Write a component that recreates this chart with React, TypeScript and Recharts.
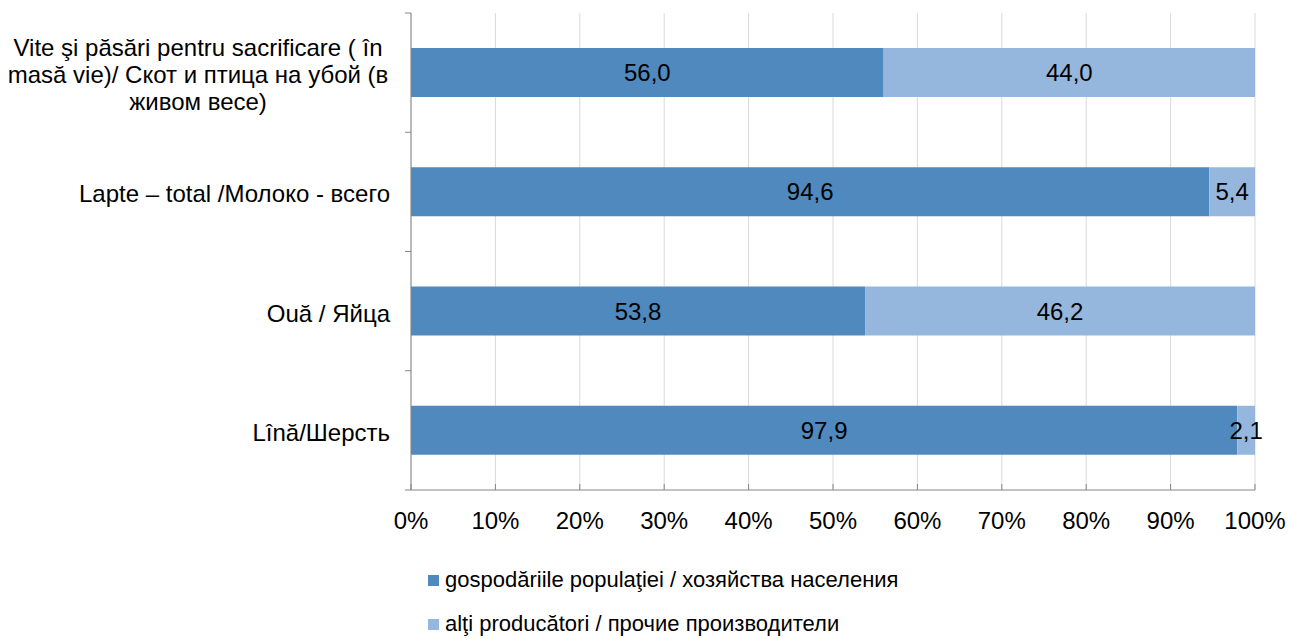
import React from 'react';
import { Bar, BarChart, CartesianGrid, LabelList, XAxis, YAxis } from 'recharts';

const categories = [
  'Vite şi păsări pentru sacrificare ( în\nmasă vie)/ Скот и птица на убой (в\nживом весе)',
  'Lapte – total /Молоко - всего',
  'Ouă / Яйца',
  'Lînă/Шерсть',
];
const households = [56.0, 94.6, 53.8, 97.9];
const others = [44.0, 5.4, 46.2, 2.1];
const xTicks = [0, 10, 20, 30, 40, 50, 60, 70, 80, 90, 100];
const seriesNames = [
  'gospodăriile populaţiei / хозяйства населения',
  'alţi producători / прочие производители',
];

const data = categories.map((name, i) => ({ name, gosp: households[i], alti: others[i] }));

const FONT = "Arial, 'Liberation Sans', sans-serif";
const DARK = '#4F89BD';
const LIGHT = '#95B7DE';
const AXIS = '#868686';
const colors = [DARK, LIGHT];

const CategoryTick = (props: any) => {
  const { x, y, payload, index, visibleTicksCount } = props;
  const half = payload.offset ?? 59.6;
  const lines = String(payload.value).split('\n');
  const axisX = x + 21;
  const multi = lines.length > 1;
  return (
    <g>
      <line x1={axisX - 6} x2={axisX} y1={y - half} y2={y - half} stroke={AXIS} />
      {index === visibleTicksCount - 1 && (
        <line x1={axisX - 6} x2={axisX} y1={y + half} y2={y + half} stroke={AXIS} />
      )}
      {lines.map((l, i) => (
        <text
          key={i}
          x={multi ? x - 192 : x}
          y={y + (i - (lines.length - 1) / 2) * 27 + 2}
          dy="0.35em"
          textAnchor={multi ? 'middle' : 'end'}
          fontSize={24}
          fontFamily={FONT}
          fill="#000"
        >
          {l}
        </text>
      ))}
    </g>
  );
};

const fmt = (v: any) => Number(v).toFixed(1).replace('.', ',');

export default function App() {
  return (
    <div style={{ position: 'absolute', left: 0, top: 0, width: 1290, height: 639, background: '#fff' }}>
      <BarChart
        width={1290}
        height={639}
        data={data}
        layout="vertical"
        margin={{ top: 13, right: 35, bottom: 0, left: 0 }}
      >
        <CartesianGrid horizontal={false} stroke="#D9D9D9" />
        <XAxis
          type="number"
          domain={[0, 100]}
          ticks={xTicks}
          tickFormatter={(v) => `${v}%`}
          height={149}
          axisLine={{ stroke: AXIS }}
          tickLine={{ stroke: AXIS }}
          tickSize={-6}
          tickMargin={28}
          tick={{ fontSize: 24, fontFamily: FONT, fill: '#000' }}
          interval={0}
        />
        <YAxis
          type="category"
          dataKey="name"
          width={411}
          axisLine={{ stroke: AXIS }}
          tickLine={false}
          tickSize={6}
          tickMargin={15}
          tick={<CategoryTick />}
          interval={0}
        />
        <Bar dataKey="gosp" name={seriesNames[0]} stackId="a" fill={DARK} barSize={49} isAnimationActive={false}>
          <LabelList dataKey="gosp" position="center" formatter={fmt} fill="#000" fontSize={24} fontFamily={FONT} />
        </Bar>
        <Bar dataKey="alti" name={seriesNames[1]} stackId="a" fill={LIGHT} barSize={49} isAnimationActive={false}>
          <LabelList dataKey="alti" position="center" formatter={fmt} fill="#000" fontSize={24} fontFamily={FONT} />
        </Bar>
      </BarChart>
      <div style={{ position: 'absolute', left: 428, top: 558, fontFamily: FONT, fontSize: 22, color: '#000' }}>
        {seriesNames.map((n, i) => (
          <div key={n} style={{ display: 'flex', alignItems: 'center', height: 44, whiteSpace: 'nowrap' }}>
            <span style={{ width: 11, height: 11, background: colors[i], marginRight: 6, display: 'inline-block' }} />
            <span>{n}</span>
          </div>
        ))}
      </div>
    </div>
  );
}
